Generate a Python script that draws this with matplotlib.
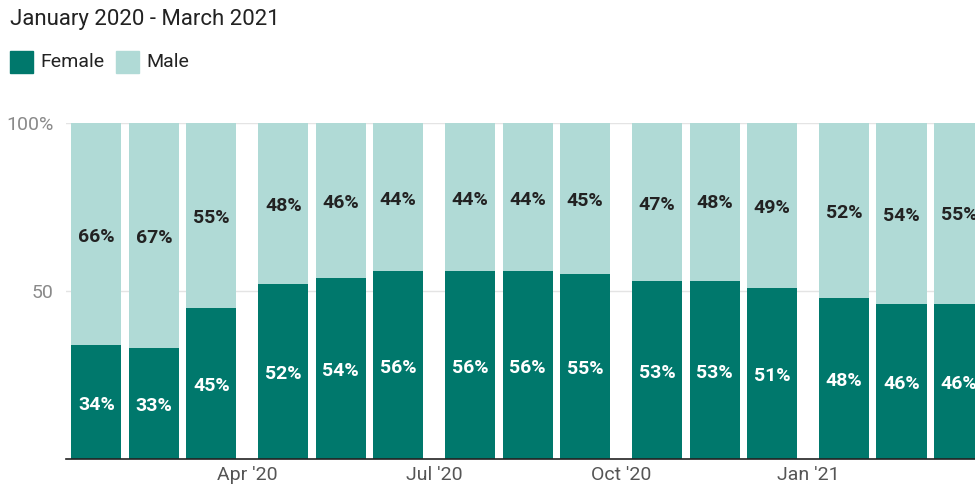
import matplotlib.pyplot as plt
import numpy as np

# ----------------------------------------
# DATA
# ----------------------------------------
months = ["Jan '20", "Feb '20", "Mar '20", "Apr '20", "May '20", "Jun '20",
          "Jul '20", "Aug '20", "Sep '20", "Oct '20", "Nov '20", "Dec '20",
          "Jan '21", "Feb '21", "Mar '21"]
female = [34, 33, 45, 52, 54, 56, 56, 56, 55, 53, 53, 51, 48, 46, 46]
male = [66, 67, 55, 48, 46, 44, 44, 44, 45, 47, 48, 49, 52, 54, 55]
quarter_ticks = ["Apr '20", "Jul '20", "Oct '20", "Jan '21"]

FEMALE_COLOR = "#00786c"
MALE_COLOR = "#b0dad6"
QGAP = 0.25   # extra space between quarters

plt.rcParams["font.family"] = ["Roboto", "DejaVu Sans"]

# ----------------------------------------
# LAYOUT
# ----------------------------------------
W, H = 975, 494
fig = plt.figure(figsize=(W / 100, H / 100), dpi=100)
ax = fig.add_axes([66 / W, (H - 459) / H, (W - 66) / W, (459 - 123) / H])

idx = np.arange(len(months))
xpos = idx + (idx // 3) * QGAP

ax.bar(xpos, female, width=0.87, color=FEMALE_COLOR, zorder=2)
ax.bar(xpos, male, width=0.87, bottom=female, color=MALE_COLOR, zorder=2)

for x, f, m in zip(xpos, female, male):
    ax.text(x, f / 2 - 0.8, f"{f}%", ha="center", va="center", color="white",
            fontsize=14, fontweight="bold", zorder=3)
    ax.text(x, f + m / 2 - 0.8, f"{m}%", ha="center", va="center", color="#222222",
            fontsize=14, fontweight="bold", zorder=3)

# ----------------------------------------
# AXES
# ----------------------------------------
ax.set_ylim(0, 100)
ax.set_xlim(-0.53, (W - 96.5) / 57.5)
ax.set_yticks([50, 100])
ax.set_yticklabels(["50", "100%"], color="#8a8a8a", fontsize=14)
ax.yaxis.grid(True, color="#e4e4e4", linewidth=1, zorder=0)

tick_x = [(xpos[i - 1] + xpos[i]) / 2 for i in (3, 6, 9, 12)]
ax.set_xticks(tick_x)
ax.set_xticklabels(quarter_ticks, color="#555555", fontsize=14)
ax.tick_params(length=0, pad=5)
ax.tick_params(axis="y", pad=9)

for s in ["top", "right", "left"]:
    ax.spines[s].set_visible(False)
ax.spines["bottom"].set_color("#222222")
ax.spines["bottom"].set_linewidth(1.2)
ax.spines["bottom"].set_zorder(4)

# ----------------------------------------
# TITLE + LEGEND
# ----------------------------------------
fig.text(10 / W, 1 - 19 / H, "January 2020 - March 2021", fontsize=16,
         color="#222222", va="center", ha="left")

for x0, label, color in [(10, "Female", FEMALE_COLOR), (116, "Male", MALE_COLOR)]:
    fig.patches.append(plt.Rectangle((x0 / W, 1 - 73 / H), 23 / W, 22 / H,
                                     transform=fig.transFigure, color=color))
    fig.text((x0 + 30) / W, 1 - 62 / H, label, fontsize=14,
             color="#222222", va="center", ha="left")

fig.savefig("out.png", dpi=100)
